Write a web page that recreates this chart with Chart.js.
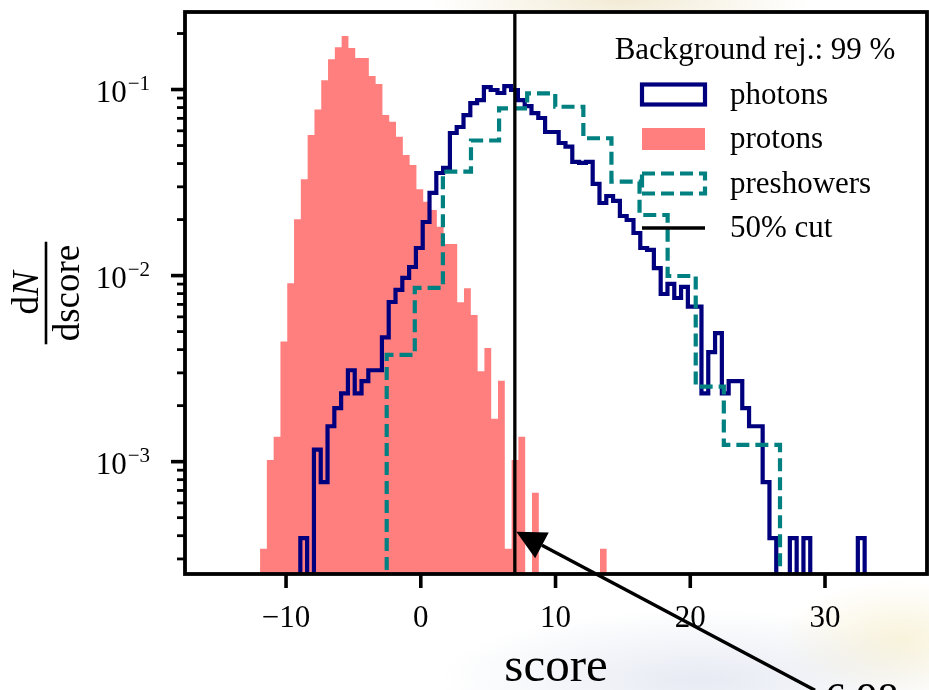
<!DOCTYPE html>
<html lang="en">
<head>
<meta charset="utf-8">
<title>score distribution</title>
<script src="https://cdn.jsdelivr.net/npm/chart.js@4.4.1/dist/chart.umd.min.js"></script>
<style>
  html, body { margin: 0; padding: 0; overflow: hidden; }
  body {
    width: 929px; height: 690px;
    background:
      radial-gradient(ellipse 190px 40px at 620px 0px, rgba(225, 210, 160, 0.45), rgba(225, 210, 160, 0) 100%),
      radial-gradient(ellipse 260px 70px at 700px 680px, rgba(185, 195, 220, 0.35), rgba(185, 195, 220, 0) 100%),
      radial-gradient(ellipse 120px 60px at 900px 640px, rgba(240, 225, 165, 0.4), rgba(240, 225, 165, 0) 100%),
      #ffffff;
  }
  canvas { display: block; }
</style>
</head>
<body>
<canvas id="hist" width="929" height="690"></canvas>
<script>
// bin layout in score units: left edge of the first bin, bin width
const protonStart = -11.93, photonStart = -8.94, preshowerStart = -2.53;
const fineWidth = 0.5046, coarseWidth = 2.085;

// dN/dscore per bin
const protons = [
  3.40e-4, 1.02e-3, 1.36e-3, 4.42e-3, 9.09e-3, 2.01e-2, 3.29e-2, 5.69e-2, 7.82e-2, 0.112,
  0.1453, 0.1685, 0.1938, 0.167, 0.1476, 0.1476, 0.1182, 0.1071, 0.0729, 0.0671,
  0.0558, 0.0445, 0.0393, 0.0291, 0.0249, 0.0225, 0.0183, 0.0148, 0.0148, 7.19e-3,
  8.55e-3, 6.14e-3, 3.06e-3, 4.08e-3, 1.70e-3, 2.72e-3, 3.40e-4, 1.02e-3, 1.36e-3, 0,
  6.80e-4, 0, 0, 0, 0, 0, 0, 0, 0, 0,
  3.40e-4
];
const photons = [
  3.88e-4, 0, 1.16e-3, 7.76e-4, 1.55e-3, 1.94e-3, 2.33e-3, 3.10e-3, 2.33e-3, 2.71e-3,
  3.10e-3, 3.10e-3, 4.65e-3, 7.21e-3, 8.37e-3, 9.71e-3, 1.112e-2, 1.407e-2, 1.941e-2, 2.78e-2,
  3.56e-2, 3.79e-2, 5.84e-2, 6.29e-2, 7.29e-2, 8.46e-2, 8.78e-2, 0.1031, 0.0994, 0.0958,
  0.1044, 0.0994, 0.0878, 0.0815, 0.0747, 0.0703, 0.0591, 0.0591, 0.0516, 0.0493,
  0.0408, 0.0403, 0.0408, 0.0311, 0.02456, 0.02677, 0.02518, 0.02091, 0.01989, 0.01694,
  0.01407, 0.01373, 0.01098, 7.96e-3, 9.02e-3, 7.58e-3, 8.69e-3, 6.81e-3, 6.81e-3, 2.33e-3,
  3.88e-3, 4.91e-3, 2.33e-3, 2.71e-3, 2.71e-3, 1.94e-3, 1.55e-3, 1.55e-3, 7.76e-4, 3.88e-4,
  0, 0, 3.88e-4, 0, 3.88e-4, 0, 0, 0, 0, 0,
  0, 0, 3.88e-4
];
const preshowers = [
  3.75e-3, 8.58e-3, 3.617e-2, 5.32e-2, 7.92e-2, 9.54e-2, 8.08e-2, 5.47e-2, 3.20e-2, 2.116e-2,
  9.95e-3, 2.53e-3, 1.23e-3, 1.23e-3
];

const cutScore = 6.98;
const cutLabel = '6.98';
const arrowTipY = 4.2e-4;
const cutTextX = 30.0, cutTextY = 4.5e-5;
const xTickValues = [-10, 0, 10, 20, 30];
const legendTitle = 'Background rej.: 99 %';
const seriesNames = ['photons', 'protons', 'preshowers', '50% cut'];

const X_MIN = -17.5, X_MAX = 37.57, Y_MIN = 2.49e-4, Y_MAX = 0.261;
const SERIF = '"Liberation Serif", "Times New Roman", serif';
const NAVY = '#00007f', SALMON = '#ff7f7f', TEAL = '#008080';
const LW = 4.2, DASH = [13, 6];

// corner points of a histogram outline; empty bins drop below the axis
function stepPoints(start, width, counts) {
  const below = Y_MIN / 10;
  const pts = [{ x: start, y: below }];
  counts.forEach((c, i) => {
    const v = c > 0 ? c : below;
    pts.push({ x: start + i * width, y: v }, { x: start + (i + 1) * width, y: v });
  });
  pts.push({ x: start + counts.length * width, y: below });
  return pts;
}

function line(ctx, x0, y0, x1, y1) {
  ctx.beginPath(); ctx.moveTo(x0, y0); ctx.lineTo(x1, y1); ctx.stroke();
}

const decor = {
  id: 'decor',
  beforeDraw(chart) {
    // white axes face over the page background
    const { ctx, chartArea: a } = chart;
    ctx.save(); ctx.fillStyle = '#fff';
    ctx.fillRect(a.left, a.top, a.right - a.left, a.bottom - a.top);
    ctx.restore();
  },
  afterDraw(chart) {
    const { ctx, chartArea: a, scales: { x, y } } = chart;
    ctx.save();
    ctx.strokeStyle = '#000'; ctx.fillStyle = '#000';

    // axes frame and tick marks
    ctx.lineWidth = 3.8;
    ctx.strokeRect(a.left, a.top, a.right - a.left, a.bottom - a.top);
    ctx.lineWidth = 3.6;
    xTickValues.forEach(v => { const px = x.getPixelForValue(v); line(ctx, px, a.bottom, px, a.bottom + 14); });
    y.ticks.forEach(t => {
      const e = Math.floor(Math.log10(t.value) + 1e-9);
      const m = t.value / Math.pow(10, e);
      if (Math.abs(m - Math.round(m)) > 1e-6) return;
      const py = y.getPixelForValue(t.value);
      const major = Math.round(m) === 1;
      ctx.lineWidth = major ? 3.6 : 2.8;
      line(ctx, a.left, py, a.left - (major ? 14 : 8), py);
      if (!major) return;
      // 10^e label
      ctx.textBaseline = 'alphabetic'; ctx.textAlign = 'left';
      const sup = '\u2212' + Math.abs(e);
      ctx.font = '31px ' + SERIF; const wBase = ctx.measureText('10').width;
      ctx.font = '21px ' + SERIF; const wSup = ctx.measureText(sup).width;
      const left = 150 - wBase - wSup - 1;
      ctx.font = '31px ' + SERIF; ctx.fillText('10', left, py + 12);
      ctx.font = '21px ' + SERIF; ctx.fillText(sup, left + wBase + 1, py + 0.5);
    });

    // y title: dN / dscore
    ctx.save();
    ctx.translate(46, (a.top + a.bottom) / 2);
    ctx.rotate(-Math.PI / 2);
    ctx.textBaseline = 'alphabetic'; ctx.textAlign = 'left';
    ctx.font = '37px ' + SERIF;
    const wDen = ctx.measureText('dscore').width;
    ctx.fillText('dscore', -wDen / 2, 33);
    const wd = ctx.measureText('d').width;
    ctx.font = 'italic 37px ' + SERIF;
    const wN = ctx.measureText('N').width;
    ctx.font = '37px ' + SERIF;
    ctx.fillText('d', -(wd + wN) / 2, -8);
    ctx.font = 'italic 37px ' + SERIF;
    ctx.fillText('N', -(wd + wN) / 2 + wd, -8);
    ctx.fillRect(-wDen / 2 - 3, -1.3, wDen + 6, 2.6);
    ctx.restore();

    // legend
    const lx = a.right - 285, lw = 63, tx = a.right - 197;
    ctx.font = '31px ' + SERIF; ctx.textAlign = 'center';
    ctx.fillText(legendTitle, a.right - 172, a.top + 47);
    ctx.textAlign = 'left';
    const rowY = i => a.top + 82.5 + i * 44.5;
    ctx.lineWidth = LW; ctx.strokeStyle = NAVY;
    ctx.strokeRect(lx, rowY(0) - 10, lw, 20);
    ctx.fillStyle = SALMON; ctx.fillRect(lx, rowY(1) - 11, lw, 22);
    ctx.strokeStyle = TEAL; ctx.setLineDash(DASH);
    ctx.strokeRect(lx, rowY(2) - 10, lw, 20);
    ctx.setLineDash([]);
    ctx.strokeStyle = '#000'; ctx.lineWidth = 3.3;
    line(ctx, lx, rowY(3), lx + lw, rowY(3));
    ctx.fillStyle = '#000';
    seriesNames.forEach((s, i) => ctx.fillText(s, tx, rowY(i) + 9));

    // annotation arrow to the cut
    const tipX = x.getPixelForValue(cutScore) + 1.5, tipY = y.getPixelForValue(arrowTipY);
    const txX = x.getPixelForValue(cutTextX), txY = y.getPixelForValue(cutTextY);
    const tailX = txX - 10, tailY = txY - 22;
    const ang = Math.atan2(tailY - tipY, tailX - tipX);
    const hl = 29, hw = 14.5;
    const bx = tipX + Math.cos(ang) * hl, by = tipY + Math.sin(ang) * hl;
    ctx.lineWidth = 3.4;
    line(ctx, bx, by, tailX, tailY);
    ctx.beginPath();
    ctx.moveTo(tipX, tipY);
    ctx.lineTo(bx - Math.sin(ang) * hw, by + Math.cos(ang) * hw);
    ctx.lineTo(bx + Math.sin(ang) * hw, by - Math.cos(ang) * hw);
    ctx.closePath(); ctx.fill();
    ctx.font = '42px ' + SERIF;
    ctx.fillText(cutLabel, txX, txY);
    ctx.restore();
  }
};

new Chart(document.getElementById('hist'), {
  type: 'line',
  data: {
    datasets: [
      { label: seriesNames[3], data: [{ x: cutScore, y: Y_MIN }, { x: cutScore, y: Y_MAX }],
        borderColor: '#000', borderWidth: 3.3, pointRadius: 0, order: 0 },
      { label: seriesNames[2], data: stepPoints(preshowerStart, coarseWidth, preshowers),
        borderColor: TEAL, borderWidth: LW, borderDash: DASH, pointRadius: 0, order: 1 },
      { label: seriesNames[0], data: stepPoints(photonStart, fineWidth, photons),
        borderColor: NAVY, borderWidth: LW, pointRadius: 0, order: 2 },
      { label: seriesNames[1], data: stepPoints(protonStart, fineWidth, protons),
        borderWidth: 0, backgroundColor: SALMON, fill: 'start', pointRadius: 0, order: 3 }
    ]
  },
  options: {
    responsive: false, animation: false, devicePixelRatio: 1,
    layout: { padding: { top: 12, right: 2, left: 0, bottom: 0 } },
    plugins: { legend: { display: false }, tooltip: { enabled: false } },
    scales: {
      x: {
        type: 'linear', min: X_MIN, max: X_MAX,
        grid: { display: false, drawTicks: false }, border: { display: false },
        afterBuildTicks: s => { s.ticks = xTickValues.map(v => ({ value: v })); },
        afterFit: s => { s.height = 116; },
        ticks: { padding: 26, color: '#000', maxRotation: 0, font: { family: SERIF, size: 31 },
          callback: v => String(v).replace('-', '\u2212') },
        title: { display: true, text: 'score', color: '#000', padding: 0,
          font: { family: SERIF, size: 49, lineHeight: 0.9 } }
      },
      y: {
        type: 'logarithmic', min: Y_MIN, max: Y_MAX,
        grid: { display: false, drawTicks: false }, border: { display: false },
        ticks: { display: false },
        afterFit: s => { s.width = 185; }
      }
    }
  },
  plugins: [decor]
});
</script>
</body>
</html>
